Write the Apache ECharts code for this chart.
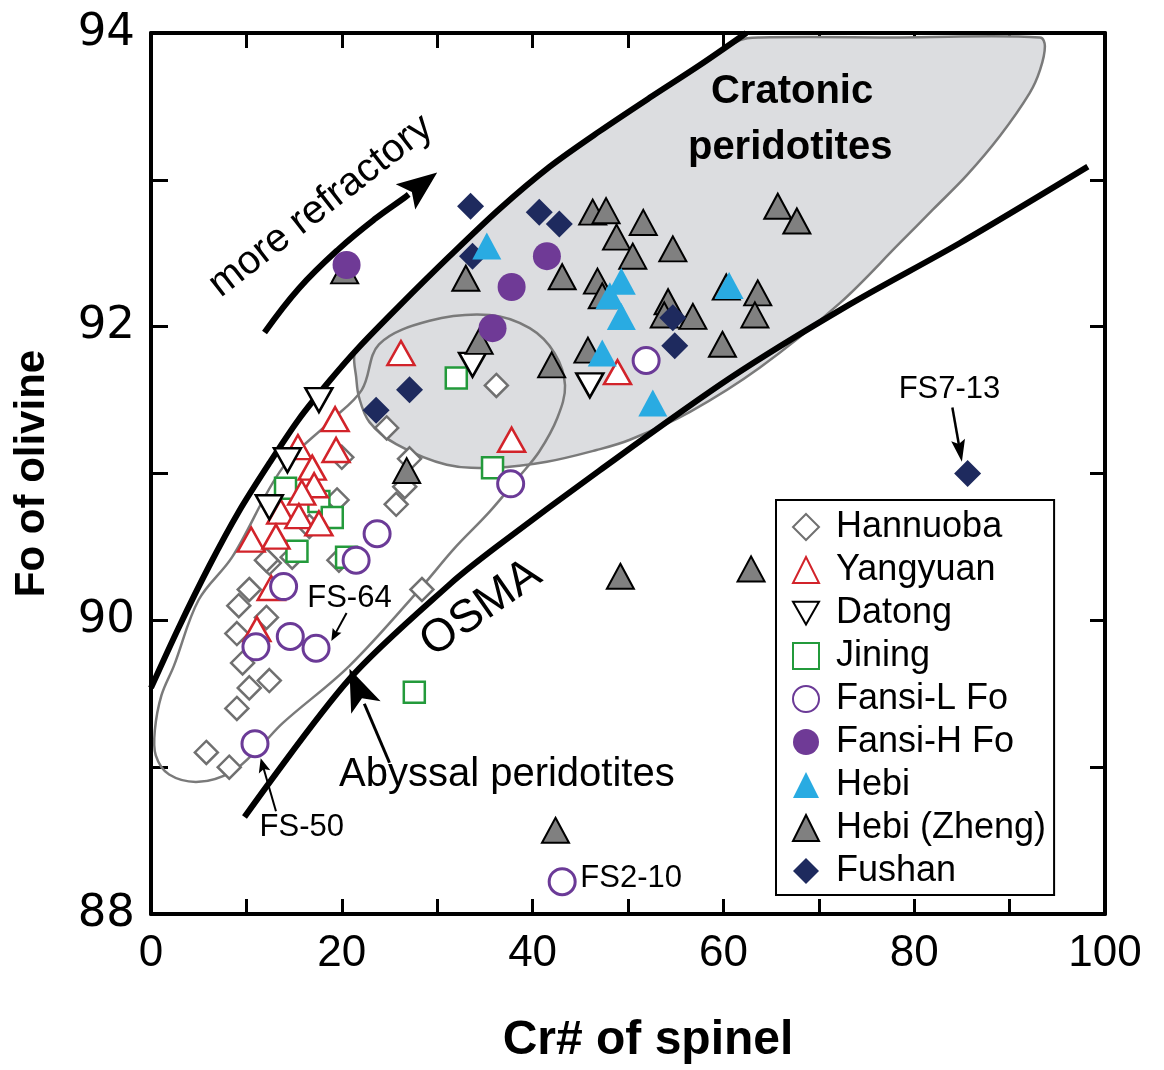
<!DOCTYPE html>
<html>
<head>
<meta charset="utf-8">
<script src="https://cdn.jsdelivr.net/npm/echarts@6/dist/echarts.min.js"></script>
<style>
  html, body { margin: 0; padding: 0; background: #fff; }
  #chart { width: 1164px; height: 1070px; }
</style>
</head>
<body>
<div id="chart"></div>
<script>
// Cr# of spinel (x) vs Fo of olivine (y) for each locality
const hannuoba = [[36.2,91.60],[24.7,91.31],[27.1,91.10],[26.6,90.91],[25.7,90.79],[20.0,91.11],[19.5,90.82],[16.6,90.64],[14.8,90.43],[12.4,90.39],[28.4,90.21],[10.3,90.21],[9.2,90.10],[12.1,90.02],[9.0,89.91],[9.6,89.71],[12.4,89.59],[10.3,89.54],[9.0,89.40],[5.8,89.10],[8.2,89.00],[19.7,90.41],[12.1,90.41]];
const yangyuan = [[26.2,91.82],[37.8,91.23],[48.9,91.69],[19.3,91.37],[19.4,91.16],[15.4,91.18],[16.9,91.04],[17.1,90.92],[15.8,90.87],[13.6,90.74],[15.5,90.71],[17.6,90.66],[10.5,90.55],[13.1,90.57],[12.6,90.22],[11.1,89.94]];
const datong = [[17.6,91.50],[14.3,91.09],[12.4,90.77],[33.7,91.74],[46.0,91.60]];
const jining = [[32.0,91.65],[35.8,91.04],[27.6,89.51],[14.1,90.90],[17.6,90.81],[19.0,90.70],[15.3,90.47],[20.5,90.43]];
const fansiL = [[51.9,91.77],[37.7,90.93],[23.7,90.59],[21.5,90.41],[13.9,90.23],[11.0,89.82],[14.6,89.89],[17.3,89.81],[10.9,89.16],[43.1,88.22]];
const fansiH = [[20.5,92.42],[41.5,92.48],[37.8,92.27],[35.8,91.99]];
const hebi = [[35.2,92.55],[49.3,92.31],[48.1,92.21],[49.3,92.07],[60.6,92.28],[47.3,91.82],[52.6,91.48]];
const hebiZheng = [[20.3,92.38],[33.0,92.33],[34.4,91.90],[42.0,91.74],[43.1,92.34],[46.3,92.78],[47.7,92.79],[48.8,92.61],[50.5,92.48],[51.6,92.71],[54.7,92.53],[46.8,92.31],[47.3,92.21],[54.2,92.17],[53.8,92.08],[56.8,92.07],[63.6,92.23],[63.3,92.08],[59.9,91.88],[65.7,92.82],[67.7,92.72],[45.8,91.84],[60.3,92.27],[26.8,91.02],[49.2,90.30],[62.9,90.35],[42.4,88.57]];
const fushan = [[33.5,92.82],[33.7,92.48],[40.7,92.78],[42.8,92.70],[27.1,91.57],[23.6,91.43],[54.7,92.06],[54.9,91.87],[85.6,91.00]];

// Olivine-spinel mantle array (OSMA) bounds
const osmaUpper = [[0,89.54],[2.9,89.95],[6.1,90.37],[9.2,90.74],[12.4,91.07],[15.5,91.37],[18.7,91.63],[21.8,91.86],[26.0,92.14],[31.3,92.48],[36.5,92.80],[41.8,93.09],[47.0,93.33],[52.3,93.56],[57.5,93.78],[62.4,94.0]];
const osmaLower = [[9.8,88.66],[20.8,89.60],[31.4,90.25],[36.2,90.50],[47.0,91.02],[60.7,91.65],[73.2,92.15],[84.8,92.57],[98.2,93.09]];

// Field outlines
const cratonicField = [[21.3,91.80],[21.8,91.86],[26.0,92.14],[31.3,92.48],[36.5,92.80],[41.8,93.09],[47.0,93.33],[52.3,93.56],[57.5,93.78],[61.7,93.95],[63.8,93.97],[78.5,93.97],[93.2,93.97],[93.7,93.91],[93.2,93.75],[92.1,93.59],[89.0,93.30],[85.5,93.03],[82.0,92.80],[78.5,92.57],[72.2,92.16],[63.8,91.72],[56.5,91.42],[50.2,91.23],[46.7,91.16],[41.5,91.08],[36.2,91.04],[31.0,91.06],[25.7,91.20],[22.9,91.35],[21.8,91.52],[21.5,91.66]];
const elongateField = [[1.9,88.95],[0.5,89.08],[0.4,89.25],[1.1,89.49],[2.4,89.69],[5.0,90.14],[8.5,90.43],[13.8,91.04],[18.7,91.35],[22.1,91.57],[23.9,91.88],[29.2,92.04],[35.5,92.08],[39.7,91.99],[42.3,91.82],[43.4,91.60],[42.6,91.38],[40.7,91.15],[38.6,90.98],[35.5,90.74],[31.8,90.49],[28.4,90.23],[20.8,89.69],[13.8,89.30],[11.3,89.13],[8.5,88.97],[5.0,88.90]];

// Arrows
const refractoryArrow = [[11.9,91.96],[15.5,92.26],[19.7,92.53],[23.4,92.73],[26.6,92.88],[30.0,93.05]];
const abyssalArrow = [[25.0,89.03],[20.8,89.67]];
const fs713Arrow = [[84.0,91.45],[85.0,91.08]];
const fs64Arrow = [[20.5,90.05],[18.9,89.86]];
const fs50Arrow = [[13.1,88.70],[11.5,89.06]];

const legendNames = ['Hannuoba','Yangyuan','Datong','Jining','Fansi-L Fo','Fansi-H Fo','Hebi','Hebi (Zheng)','Fushan'];

const SANS = '"Liberation Sans", Arial, Helvetica, sans-serif';

function fieldSeries(points, style, z) {
  return {
    type: 'custom', data: [0], z: z, silent: true,
    renderItem: function (params, api) {
      return { type: 'polygon', shape: { points: points.map(function (p) { return api.coord(p); }), smooth: 0.35 }, style: style };
    }
  };
}

function boundSeries(points, z) {
  return { type: 'line', data: points, smooth: 0.3, symbol: 'none', silent: true, z: z,
           lineStyle: { color: '#000', width: 6, cap: 'butt' } };
}

function arrowSeries(points, o, z) {
  return {
    type: 'custom', data: [0], z: z, silent: true,
    renderItem: function (params, api) {
      const px = points.map(function (p) { return api.coord(p); });
      const n = px.length, tip = px[n - 1], prev = px[n - 2];
      const dx = tip[0] - prev[0], dy = tip[1] - prev[1];
      const len = Math.hypot(dx, dy), ux = dx / len, uy = dy / len;
      const bx = tip[0] - ux * o.head, by = tip[1] - uy * o.head;
      const wx = -uy * o.half, wy = ux * o.half;
      const shaft = px.slice(0, n - 1).concat([[bx + ux * 4, by + uy * 4]]);
      return {
        type: 'group',
        children: [
          { type: 'polyline', shape: { points: shaft, smooth: o.smooth || 0 }, style: { stroke: '#000', lineWidth: o.width, fill: null } },
          { type: 'polygon', shape: { points: [tip, [bx + wx, by + wy], [bx + ux * o.notch, by + uy * o.notch], [bx - wx, by - wy]] }, style: { fill: '#000' } }
        ]
      };
    }
  };
}

// Text annotations placed in data coordinates
const notes = [
  { text: 'more refractory', at: [17.8, 92.82], rot: 0.66, size: 40, weight: 'normal', align: 'center' },
  { text: 'OSMA', at: [34.6, 90.08], rot: 0.61, size: 46, weight: 'normal', align: 'center' },
  { text: 'Abyssal peridotites', at: [37.3, 88.95], rot: 0, size: 40, weight: 'normal', align: 'center' },
  { text: 'Cratonic', at: [67.2, 93.60], rot: 0, size: 40, weight: 'bold', align: 'center' },
  { text: 'peridotites', at: [67.0, 93.22], rot: 0, size: 40, weight: 'bold', align: 'center' },
  { text: 'FS7-13', at: [83.7, 91.57], rot: 0, size: 31, weight: 'normal', align: 'center' },
  { text: 'FS-64', at: [20.8, 90.15], rot: 0, size: 31, weight: 'normal', align: 'center' },
  { text: 'FS-50', at: [15.8, 88.59], rot: 0, size: 31, weight: 'normal', align: 'center' },
  { text: 'FS2-10', at: [45.0, 88.24], rot: 0, size: 31, weight: 'normal', align: 'left' }
];

const noteSeries = {
  type: 'custom', data: notes.map(function (n, i) { return i; }), z: 20, silent: true,
  renderItem: function (params, api) {
    const n = notes[params.dataIndex];
    const p = api.coord(n.at);
    return {
      type: 'text', x: p[0], y: p[1], rotation: n.rot,
      style: { text: n.text, fontSize: n.size, fontWeight: n.weight, fontFamily: SANS, fill: '#000', align: n.align, verticalAlign: 'middle' }
    };
  }
};

function scatter(name, data, symbol, size, itemStyle, z, rotate) {
  return { type: 'scatter', name: name, data: data, symbol: symbol, symbolSize: size, symbolRotate: rotate || 0,
           symbolKeepAspect: true, itemStyle: itemStyle, z: z, emphasis: { disabled: true } };
}

const axisLine = { show: true, onZero: false, lineStyle: { color: '#000', width: 4 } };
const tick = function (len) { return { show: true, inside: true, length: len, lineStyle: { color: '#000', width: 3 } }; };

const option = {
  animation: false,
  backgroundColor: '#fff',
  grid: { left: 151, right: 59, top: 33, bottom: 150, containLabel: false },
  xAxis: [
    { type: 'value', min: 0, max: 100, interval: 10, position: 'bottom',
      axisLine: axisLine, axisTick: tick(15), splitLine: { show: false },
      axisLabel: { formatter: function (v) { return v % 20 === 0 ? String(v) : ''; }, fontFamily: SANS, fontSize: 44, color: '#000', margin: 18 },
      name: 'Cr# of spinel', nameLocation: 'middle', nameGap: 103,
      nameTextStyle: { fontFamily: SANS, fontWeight: 'bold', fontSize: 48, color: '#000', padding: [0, 0, 0, 40] } },
    { type: 'value', min: 0, max: 100, interval: 10, position: 'top',
      axisLine: axisLine, axisTick: tick(15), axisLabel: { show: false }, splitLine: { show: false } }
  ],
  yAxis: [
    { type: 'value', min: 88, max: 94, interval: 1, position: 'left',
      axisLine: axisLine, axisTick: tick(17), splitLine: { show: false },
      axisLabel: { formatter: function (v) { return v % 2 === 0 ? String(v) : ''; }, fontFamily: '"DejaVu Sans", sans-serif', fontSize: 45, color: '#000', margin: 16 },
      name: 'Fo of olivine', nameLocation: 'middle', nameGap: 98,
      nameTextStyle: { fontFamily: SANS, fontWeight: 'bold', fontSize: 42, color: '#000' } },
    { type: 'value', min: 88, max: 94, interval: 1, position: 'right',
      axisLine: axisLine, axisTick: tick(15), axisLabel: { show: false }, splitLine: { show: false } }
  ],
  legend: {
    data: legendNames.map(function (n) {
      return n === 'Datong' ? { name: n, icon: 'path://M0,0L24,0L12,21Z' } : { name: n };
    }),
    orient: 'vertical', left: 776, top: 500,
    padding: [9, 8, 6, 16], itemGap: 7, itemWidth: 26, itemHeight: 26,
    borderColor: '#000', borderWidth: 2, selectedMode: false,
    textStyle: { fontFamily: SANS, fontSize: 36, color: '#000', lineHeight: 34, padding: [0, 0, 0, 12] }
  },
  series: [
    fieldSeries(cratonicField, { fill: '#dcdde0', stroke: '#7a7a7a', lineWidth: 2.5 }, 1),
    fieldSeries(elongateField, { fill: null, stroke: '#7a7a7a', lineWidth: 2.5 }, 2),
    boundSeries(osmaUpper, 3),
    boundSeries(osmaLower, 3),
    arrowSeries(refractoryArrow, { head: 40, half: 16, notch: 8, width: 6, smooth: 0.4 }, 4),
    arrowSeries(abyssalArrow, { head: 42, half: 16, notch: 10, width: 3 }, 4),
    arrowSeries(fs713Arrow, { head: 22, half: 7, notch: 4, width: 2.5 }, 4),
    arrowSeries(fs64Arrow, { head: 12, half: 5, notch: 2, width: 2 }, 4),
    arrowSeries(fs50Arrow, { head: 14, half: 6, notch: 3, width: 2 }, 4),
    noteSeries,
    scatter('Hannuoba', hannuoba, 'diamond', 23, { color: '#fff', borderColor: '#707070', borderWidth: 2.5, opacity: 1 }, 5),
    scatter('Yangyuan', yangyuan, 'triangle', [27, 24], { color: '#fff', borderColor: '#d2232a', borderWidth: 2.5, opacity: 1 }, 7),
    scatter('Datong', datong, 'triangle', [27, 24], { color: '#fff', borderColor: '#000', borderWidth: 2.5, opacity: 1 }, 8, 180),
    scatter('Jining', jining, 'rect', 21, { color: '#fff', borderColor: '#239a3b', borderWidth: 2.5, opacity: 1 }, 6),
    scatter('Fansi-L Fo', fansiL, 'circle', 26, { color: '#fff', borderColor: '#6b3a97', borderWidth: 3, opacity: 1 }, 9),
    scatter('Fansi-H Fo', fansiH, 'circle', 28, { color: '#6f3a96', opacity: 1 }, 12),
    scatter('Hebi', hebi, 'triangle', [29, 27], { color: '#29abe2', opacity: 1 }, 13),
    scatter('Hebi (Zheng)', hebiZheng, 'triangle', [27, 25], { color: '#808080', borderColor: '#000', borderWidth: 2, opacity: 1 }, 10),
    scatter('Fushan', fushan, 'diamond', 27, { color: '#1e2a5e', opacity: 1 }, 11)
  ]
};

const chart = echarts.init(document.getElementById('chart'));
chart.setOption(option);
</script>
</body>
</html>
